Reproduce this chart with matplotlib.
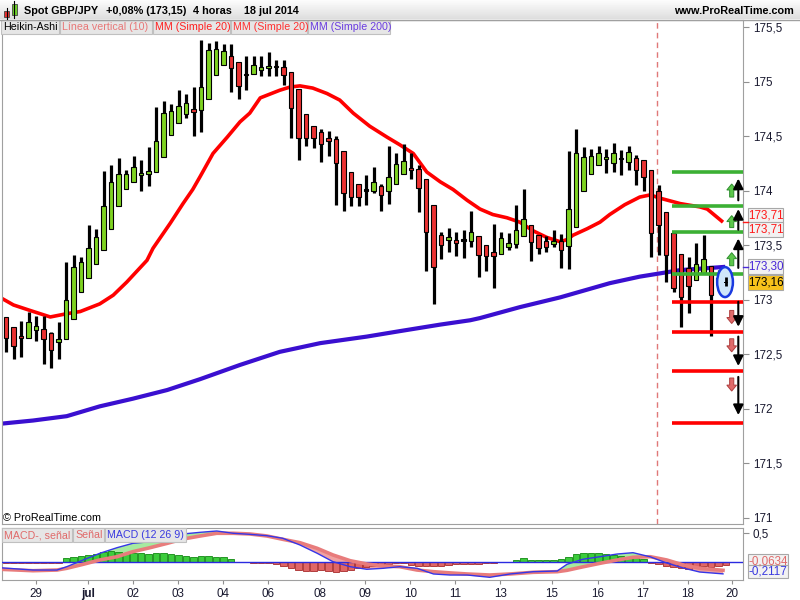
import numpy as np
import matplotlib
matplotlib.use("Agg")
import matplotlib.pyplot as plt
from matplotlib.patches import Rectangle, Ellipse
from matplotlib.lines import Line2D

plt.rcParams['font.family'] = ['Liberation Sans', 'DejaVu Sans']

# Heikin-Ashi 4h candles, Spot GBP/JPY (29 jun - 18 jul 2014)
ha_open = [172.84, 172.75, 172.67, 172.65, 172.72, 172.73, 172.69, 172.61, 172.64, 172.82,
           173.07, 173.20, 173.33, 173.45, 173.65, 173.86, 174.01, 174.08, 174.14, 174.15,
           174.17, 174.31, 174.51, 174.62, 174.70, 174.75, 174.74, 174.84, 175.06, 175.15,
           175.23, 175.18, 175.07, 175.07, 175.11, 175.12, 175.13, 175.13, 175.09, 174.93,
           174.70, 174.59, 174.54, 174.48, 174.47, 174.36, 174.17, 174.06, 174.01, 174.00,
           174.04, 174.00, 174.06, 174.15, 174.21, 174.20, 174.11, 173.87, 173.59, 173.55,
           173.55, 173.55, 173.54, 173.58, 173.50, 173.44, 173.42, 173.48, 173.51, 173.58,
           173.68, 173.59, 173.54, 173.51, 173.54, 173.49, 173.67, 174.00, 174.15, 174.23,
           174.29, 174.25, 174.29, 174.26, 174.30, 174.28, 174.19, 174.00, 173.80, 173.61,
           173.42, 173.29, 173.18, 173.24, 173.31, 173.20, 173.17]
ha_close = [172.65, 172.57, 172.65, 172.79, 172.76, 172.64, 172.54, 172.64, 173.00, 173.30,
            173.34, 173.47, 173.57, 173.86, 174.08, 174.15, 174.15, 174.22, 174.16, 174.18,
            174.45, 174.71, 174.73, 174.78, 174.80, 174.72, 174.95, 175.29, 175.30, 175.28,
            175.12, 174.96, 175.06, 175.15, 175.13, 175.14, 175.14, 175.06, 174.76, 174.48,
            174.48, 174.48, 174.43, 174.45, 174.25, 173.98, 173.94, 173.94, 174.00, 174.08,
            173.96, 174.12, 174.24, 174.27, 174.19, 174.02, 173.62, 173.30, 173.50, 173.57,
            173.52, 173.54, 173.62, 173.41, 173.40, 173.40, 173.56, 173.52, 173.64, 173.74,
            173.53, 173.47, 173.48, 173.54, 173.45, 173.83, 174.34, 174.31, 174.32, 174.34,
            174.31, 174.34, 174.30, 174.35, 174.19, 174.12, 173.61, 173.68, 173.41, 173.11,
            173.02, 173.12, 173.33, 173.37, 173.04, 173.18, 173.15]
ha_high = [172.84, 172.75, 172.80, 172.89, 172.85, 172.85, 172.70, 172.79, 173.34, 173.41,
           173.39, 173.68, 173.65, 174.18, 174.23, 174.30, 174.19, 174.32, 174.28, 174.40,
           174.77, 174.82, 174.79, 174.92, 174.89, 174.95, 175.38, 175.35, 175.37, 175.34,
           175.34, 175.18, 175.23, 175.23, 175.23, 175.27, 175.20, 175.20, 175.09, 174.93,
           174.70, 174.59, 174.56, 174.55, 174.50, 174.36, 174.17, 174.06, 174.14, 174.22,
           174.06, 174.41, 174.34, 174.43, 174.34, 174.23, 174.11, 173.87, 173.62, 173.66,
           173.62, 173.64, 173.81, 173.58, 173.50, 173.69, 173.62, 173.61, 173.87, 174.01,
           173.68, 173.59, 173.58, 173.64, 173.60, 174.36, 174.56, 174.40, 174.38, 174.41,
           174.38, 174.44, 174.37, 174.41, 174.33, 174.28, 174.19, 174.05, 173.80, 173.61,
           173.42, 173.39, 173.52, 173.59, 173.31, 173.27, 173.21]
ha_low = [172.52, 172.45, 172.47, 172.65, 172.62, 172.41, 172.37, 172.45, 172.64, 172.82,
          173.07, 173.20, 173.33, 173.45, 173.65, 173.86, 174.01, 174.08, 174.00, 174.04,
          174.17, 174.31, 174.51, 174.62, 174.67, 174.50, 174.54, 174.84, 175.06, 175.15,
          174.90, 174.84, 174.92, 175.07, 175.05, 175.05, 175.05, 174.97, 174.48, 174.28,
          174.41, 174.39, 174.26, 174.32, 173.87, 173.81, 173.86, 173.86, 173.87, 173.98,
          173.81, 173.88, 174.06, 174.15, 174.11, 173.80, 173.26, 172.96, 173.37, 173.44,
          173.40, 173.38, 173.48, 173.21, 173.26, 173.11, 173.42, 173.45, 173.47, 173.58,
          173.35, 173.42, 173.44, 173.48, 173.29, 173.28, 173.67, 174.00, 174.15, 174.23,
          174.16, 174.17, 174.14, 174.19, 174.05, 174.00, 173.39, 173.41, 173.16, 173.07,
          172.75, 172.88, 173.18, 173.23, 172.67, 173.09, 173.12]
ha_doji = [32, 36, 48, 61, 82, 95, 96]

# moving averages (candle index -> price)
sma20_x = [-0.8, 1.0, 3.2, 5.9, 8.1, 9.9, 12.5, 14.3, 16.1, 18.8, 19.6, 21.9, 23.6, 24.9,
           25.9, 27.6, 29.5, 31.2, 32.5, 33.9, 36.5, 37.9, 39.2, 40.9, 42.8, 44.5, 46.3,
           48.5, 50.8, 52.5, 54.3, 56.1, 57.9, 59.6, 61.5, 63.2, 64.9, 66.8, 68.5, 70.3,
           72.1, 73.9, 74.8, 75.6, 77.5, 79.2, 80.5, 82.5, 84.5, 85.9, 87.2, 89.9, 92.5,
           93.5, 95.6]
sma20 = [173.02, 172.95, 172.90, 172.84, 172.87, 172.89, 172.96, 173.04, 173.16, 173.36,
         173.47, 173.70, 173.88, 174.01, 174.13, 174.34, 174.49, 174.63, 174.71, 174.85,
         174.92, 174.95, 174.96, 174.94, 174.89, 174.83, 174.71, 174.59, 174.49, 174.42,
         174.34, 174.17, 174.08, 174.01, 173.91, 173.83, 173.78, 173.75, 173.71, 173.63,
         173.57, 173.53, 173.55, 173.59, 173.65, 173.71, 173.78, 173.87, 173.94, 173.96,
         173.93, 173.88, 173.85, 173.83, 173.71]
sma200_x = [-0.8, 3.6, 8.1, 12.5, 16.9, 21.5, 25.9, 31.2, 36.5, 41.9, 48.1, 52.5, 57.9,
            61.9, 63.2, 68.5, 73.9, 80.5, 84.5, 89.9, 95.9]
sma200 = [171.86, 171.89, 171.93, 172.02, 172.09, 172.17, 172.27, 172.40, 172.52, 172.60,
          172.66, 172.71, 172.77, 172.81, 172.83, 172.93, 173.02, 173.15, 173.21, 173.27,
          173.30]

# levels drawn on the right
green_levels = [174.17, 173.86, 173.62, 173.23]
red_levels = [172.98, 172.70, 172.34, 171.87]
up_base = [173.94, 173.66, 173.31]
up_tip = [174.06, 173.77, 173.43]
dn_base = [172.90, 172.64, 172.28]
dn_tip = [172.78, 172.52, 172.16]
bk_up_base = [173.91, 173.64, 173.29]
bk_up_tip = [174.11, 173.83, 173.56]
bk_dn_base = [172.98, 172.66, 172.29]
bk_dn_tip = [172.75, 172.39, 171.94]

# MACD (12 26 9)
macd_x = [-0.8, 3.6, 6.8, 8.1, 10.3, 12.5, 14.8, 16.9, 19.2, 21.5, 23.6, 25.9, 28.1, 30.3,
          32.5, 34.8, 36.9, 39.2, 41.5, 43.6, 45.9, 48.1, 50.3, 52.5, 54.8, 57.0, 59.2,
          61.5, 64.5, 67.2, 70.3, 73.5, 74.8, 76.9, 79.2, 81.5, 83.6, 85.9, 88.1, 90.3,
          92.5, 95.6]
macd_line = [-0.105, -0.145, -0.145, -0.087, 0.03, 0.146, 0.244, 0.32, 0.348, 0.408,
             0.483, 0.512, 0.535, 0.495, 0.477, 0.453, 0.408, 0.291, 0.146, 0.0,
             -0.087, -0.132, -0.115, -0.087, -0.115, -0.214, -0.232, -0.232, -0.272, -0.214,
             -0.174, -0.162, -0.045, 0.042, 0.087, 0.134, 0.157, 0.085, -0.023, -0.11,
             -0.18, -0.212]
signal_line = [-0.132, -0.157, -0.145, -0.115, -0.045, 0.03, 0.087, 0.174, 0.244, 0.32,
               0.395, 0.448, 0.495, 0.495, 0.483, 0.448, 0.39, 0.331, 0.233, 0.117,
               0.017, -0.04, -0.075, -0.087, -0.145, -0.174, -0.195, -0.214, -0.232, -0.214,
               -0.185, -0.174, -0.15, -0.09, -0.028, 0.03, 0.077, 0.087, 0.03, -0.057,
               -0.115, -0.15]
macd_hist = [-0.03, -0.03, -0.03, -0.02, -0.02, -0.02, -0.02, -0.02,
             0.058, 0.087, 0.104, 0.117, 0.127, 0.174, 0.191, 0.174, 0.144, 0.144,
             0.144, 0.134, 0.144, 0.144, 0.134, 0.117, 0.104, 0.075, 0.104, 0.104,
             0.087, 0.075, 0.047, 0.0, -0.012, -0.017, -0.023, -0.03, -0.047, -0.07,
             -0.117, -0.144, -0.157, -0.157, -0.144, -0.157, -0.174, -0.162, -0.144, -0.117,
             -0.087, -0.075, -0.058, -0.047, -0.03, -0.03, -0.058, -0.07, -0.075, -0.07,
             -0.07, -0.058, -0.047, -0.047, -0.04, -0.04, -0.03, -0.017, -0.012, 0.0,
             0.035, 0.058, 0.035, 0.035, 0.035, 0.035, 0.04, 0.087, 0.127, 0.144,
             0.144, 0.144, 0.134, 0.117, 0.104, 0.087, 0.07, 0.04, -0.017, -0.047,
             -0.07, -0.087, -0.117, -0.127, -0.087, -0.075, -0.087, -0.07, -0.063]

date_idx = [4.0, 10.9, 16.9, 22.9, 28.9, 34.9, 41.9, 47.9, 53.9, 59.9, 65.9, 72.8,
            78.9, 84.9, 90.9, 96.8]
date_lbl = ['29', 'jul', '02', '03', '04', '06', '08', '09', '10', '11', '13', '15',
            '16', '17', '18', '20']


W, H = 800, 600


def fx(x):
    return x / W


def fy(y):
    return 1 - y / H


def comma(v, pos=None):
    return ('%g' % v).replace('.', ',')


GRID = '#a0a0a0'
xmin = -4 / 7.5
xmax = xmin + 741 / 7.5

fig = plt.figure(figsize=(8, 6), dpi=100)
fig.patch.set_facecolor('white')

# header bar
hax = fig.add_axes([0, fy(19), 1, 19 / H])
hax.imshow(np.linspace(0.99, 0.87, 40).reshape(-1, 1), aspect='auto', cmap='gray',
           vmin=0, vmax=1, extent=[0, 1, 0, 1])
hax.axis('off')
fig.add_artist(Line2D([0, 1], [fy(19.5), fy(19.5)], color=GRID, lw=1))

# little candle icon
fig.add_artist(Line2D([fx(6.5), fx(6.5)], [fy(8), fy(19)], color='black', lw=0.8))
fig.add_artist(Rectangle((fx(4), fy(17)), fx(5), 6 / H, fc='#e83030', ec='#444444', lw=0.6))
fig.add_artist(Line2D([fx(14), fx(14)], [fy(1), fy(18)], color='black', lw=0.8))
fig.add_artist(Rectangle((fx(11.5), fy(15)), fx(5), 11 / H, fc='#6ccf2a', ec='#444444', lw=0.6))

hdr = dict(fontsize=7.8, fontweight='bold', va='center', color='black')
fig.text(fx(24), fy(11), 'Spot GBP/JPY', **hdr)
fig.text(fx(106), fy(11), '+0,08% (173,15)', **hdr)
fig.text(fx(193), fy(11), '4 horas', **hdr)
fig.text(fx(244), fy(11), '18 jul 2014', **hdr)
fig.text(fx(794), fy(11), 'www.ProRealTime.com', ha='right', **hdr)

# ---- price panel ----
ax = fig.add_axes([fx(2), fy(524), fx(741), 504 / H])
ax.set_xlim(xmin, xmax)
ax.set_ylim(175.748 - 524 / 109, 175.748 - 20 / 109)
for s in ax.spines.values():
    s.set_color(GRID)
ax.set_xticks([])
ax.yaxis.tick_right()
ax.set_yticks(np.arange(171, 175.51, 0.5))
ax.yaxis.set_major_formatter(comma)
ax.tick_params(axis='y', direction='out', length=4, width=0.8, color='#909090',
               labelsize=8.4, labelcolor='#1a1a30', pad=3)

ax.axvline(86.85, color='#e07878', lw=1, ls=(0, (4, 3)), zorder=1)
ax.plot(sma200_x, sma200, color='#3a0fd0', lw=3.0, zorder=2, solid_capstyle='butt')
ax.plot(sma20_x, sma20, color='#ff0000', lw=2.6, zorder=2, solid_capstyle='butt')

x = np.arange(len(ha_open))
o = np.array(ha_open)
c = np.array(ha_close)
colors = []
for i in x:
    if i in ha_doji:
        colors.append('black')
    elif c[i] >= o[i]:
        colors.append('#7ed321')
    else:
        colors.append('#ea3232')
ax.vlines(x, ha_low, ha_high, color='black', lw=2.3, zorder=3)
ax.bar(x, np.maximum(np.abs(c - o), 0.012), bottom=np.minimum(o, c), width=0.64,
       color=colors, edgecolor='black', linewidth=0.8, zorder=4)

# levels and arrows
ax.hlines(green_levels, 88.8, xmax, color='#3cb034', lw=2.6, zorder=5)
ax.hlines(red_levels, 88.8, xmax, color='#ff0000', lw=2.6, zorder=5)
for b, t in zip(up_base, up_tip):
    ax.arrow(96.76, b, 0, t - b, width=0.55, head_width=1.3, head_length=0.055,
             length_includes_head=True, fc='#5cc84a', ec='#2f8f2f', lw=0.7, zorder=6)
for b, t in zip(dn_base, dn_tip):
    ax.arrow(96.76, b, 0, t - b, width=0.55, head_width=1.3, head_length=0.055,
             length_includes_head=True, fc='#e06a6a', ec='#b04040', lw=0.7, zorder=6)
for b, t in zip(bk_up_base + bk_dn_base, bk_up_tip + bk_dn_tip):
    ax.annotate('', xy=(97.64, t), xytext=(97.64, b),
                arrowprops=dict(arrowstyle='-|>,head_width=0.3,head_length=0.6',
                                color='black', lw=1.5, shrinkA=0, shrinkB=0), zorder=6)

ax.add_patch(Ellipse((95.87, 173.16), 2.1, 0.275, fc='#cfe6fa', ec='#1a3ae0', lw=1.8,
                     zorder=5))
ax.vlines(96, ha_low[96], ha_high[96], color='black', lw=2.0, zorder=6)
ax.bar(96, 0.015, bottom=ha_close[96], width=0.5, color='black', zorder=6)

# indicator legend boxes
legend = [('Heikin-Ashi', 0, 58, 'black'),
          ('Línea vertical (10)', 59, 151, '#e87878'),
          ('MM (Simple 20)', 152, 229, '#ff2020'),
          ('MM (Simple 20)', 230, 306, '#ff3030'),
          ('MM (Simple 200)', 307, 389, '#6a3ce0')]
for txt, x0, x1, col in legend:
    fig.add_artist(Rectangle((fx(x0 + 1), fy(34)), fx(x1 - x0), 14 / H, fc='#e6e6e6',
                             ec='#c0c0c0', lw=0.8))
    fig.text(fx(x0 + 3), fy(27), txt, fontsize=7.7, color=col, va='center')

fig.text(fx(3), fy(518), '© ProRealTime.com', fontsize=7.8, va='center')

# right side value boxes
boxes = [('173,71', 208, '#ff1a1a', '#f2f2f2'),
         ('173,71', 222, '#ff1a1a', '#f2f2f2'),
         ('173,30', 259, '#4a2ad8', '#f2f2f2'),
         ('173,16', 275, 'black', '#f7c21b')]
for txt, y0, col, bg in boxes:
    fig.add_artist(Rectangle((fx(748), fy(y0 + 15)), fx(35), 15 / H, fc=bg, ec='#a8a8a8',
                             lw=0.8))
    fig.text(fx(765.5), fy(y0 + 7.5), txt, fontsize=8.4, color=col, ha='center', va='center')
fig.add_artist(Line2D([fx(743), fx(748)], [fy(222), fy(222)], color='#ff1a1a', lw=1))
fig.add_artist(Line2D([fx(743), fx(748)], [fy(267), fy(267)], color='#4a2ad8', lw=1))

# ---- MACD panel ----
ax2 = fig.add_axes([fx(2), fy(580), fx(741), 52 / H])
ax2.set_xlim(xmin, xmax)
ax2.set_ylim((561.7 - 580) / 57.4, (561.7 - 528) / 57.4)
for s in ax2.spines.values():
    s.set_color(GRID)

mx = np.array(macd_x)
mv = np.array(macd_line)
sv = np.array(signal_line)
ax2.fill_between(mx, mv, sv, where=mv >= sv, interpolate=True, color='#a6eaa0', lw=0, zorder=1)
ax2.fill_between(mx, mv, sv, where=mv < sv, interpolate=True, color='#f0a2a2', lw=0, zorder=1)
hv = np.array(macd_hist)
ax2.bar(x, hv, width=0.92, color=np.where(hv >= 0, '#3ccc3c', '#e06666'),
        edgecolor=np.where(hv >= 0, '#128a12', '#a82c2c'), linewidth=0.6, zorder=2)
ax2.axhline(0, color='#2a2ae0', lw=1, zorder=3)
ax2.plot(mx, sv, color='#e87c7c', lw=2.6, zorder=3)
ax2.plot(mx, mv, color='#3535e8', lw=1.0, zorder=4)

ax2.yaxis.tick_right()
ax2.set_yticks([0.5])
ax2.yaxis.set_major_formatter(comma)
ax2.tick_params(axis='y', direction='out', length=4, width=0.8, color='#909090',
                labelsize=8.4, labelcolor='#1a1a30', pad=3)
ax2.set_xticks(date_idx)
ax2.set_xticklabels(date_lbl)
ax2.tick_params(axis='x', direction='out', length=3, width=0.8, color='#909090',
                labelsize=8.4, labelcolor='#1a1a30', pad=3)
for lab in ax2.get_xticklabels():
    if lab.get_text() == 'jul':
        lab.set_fontweight('bold')

macd_leg = [('MACD-, señal', 1, 71, '#e06a6a'),
            ('Señal', 72, 103, '#e06a6a'),
            ('MACD (12 26 9)', 104, 185, '#3a3ae0')]
for txt, x0, x1, col in macd_leg:
    fig.add_artist(Rectangle((fx(x0 + 1), fy(542)), fx(x1 - x0), 14 / H, fc='#e6e6e6',
                             ec='#c0c0c0', lw=0.8))
    fig.text(fx(x0 + 3), fy(535), txt, fontsize=7.7, color=col, va='center')

fig.add_artist(Rectangle((fx(748), fy(568)), fx(40), 14 / H, fc='#f2f2f2', ec='#a8a8a8', lw=0.8))
fig.text(fx(768), fy(561), '-0,0634', fontsize=8.4, color='#e06a6a', ha='center', va='center')
fig.add_artist(Rectangle((fx(748), fy(578)), fx(40), 13 / H, fc='#f2f2f2', ec='#a8a8a8', lw=0.8))
fig.text(fx(768), fy(571.5), '-0,2117', fontsize=8.4, color='#3a3ae0', ha='center', va='center')

fig.savefig('out.png', dpi=100)
